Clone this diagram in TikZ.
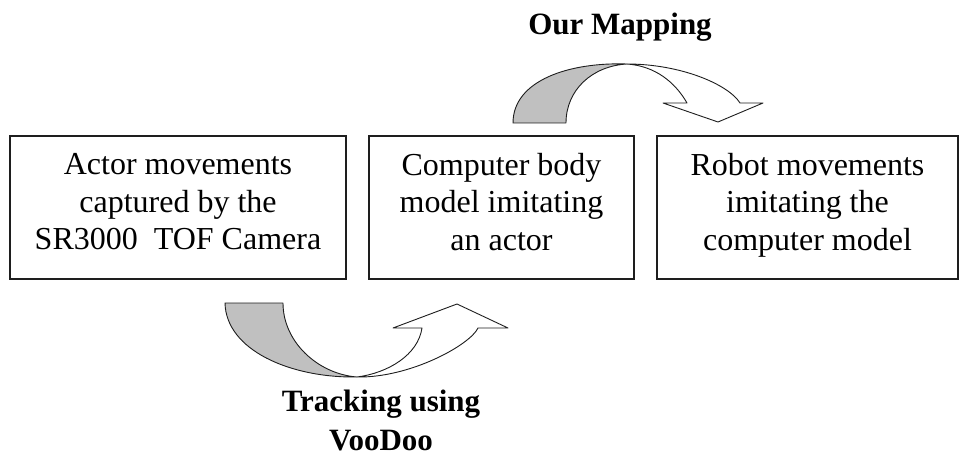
\documentclass[tikz,border=0pt]{standalone}
\usepackage{fontspec}
\setmainfont{Liberation Serif}
\usepackage{tikz}
\usetikzlibrary{positioning,calc}
\usepackage{xcolor}
\definecolor{inkline}{RGB}{30,30,30}
\definecolor{shade}{RGB}{192,192,192}
\tikzset{
  % ---- stages -----------------------------------------------------------
  stage/.style={
    draw=inkline, line width=1.1pt, fill=white, text=black,
    font=\fontsize{32}{37.5}\selectfont, align=center,
    execute at begin node=\strut, execute at end node=\strut,
    inner sep=0pt, minimum height=143pt},
  % ---- ribbon arrows ----------------------------------------------------
  ribbon/.style={draw=inkline, line width=0.9pt, line join=round},
  ribbonback/.style={ribbon, fill=shade},
  ribbonfront/.style={ribbon, fill=white},
  % ---- labels -----------------------------------------------------------
  steplbl/.style={font=\bfseries\fontsize{31}{39}\selectfont, align=center, inner sep=0pt},
}

\begin{document}
\begin{tikzpicture}[x=1pt,y=-1pt]
\useasboundingbox (0,0) rectangle (960,457);

% stages
\node[stage, minimum width=336pt] (actor) at (178,207.5)
  {Actor movements\\ captured by the\\ SR3000\ \ TOF Camera};
\node[stage, minimum width=265pt] (model) at (501.5,207.5)
  {Computer body\\ model imitating\\ an actor};
\node[stage, minimum width=301pt] (robot) at (807.5,207.5)
  {Robot movements\\ imitating the\\ computer model};

% tracking arrow (below, rising to the model)
\coordinate (tw) at (357,377);
\path[ribbonback] (225,303) -- (283,303)
  .. controls (283,342) and (318,374) .. (tw)
  .. controls (290,378) and (226,350) .. (225,303) -- cycle;
\path[ribbonfront] (tw) .. controls (410,378) and (470,345) .. (478,328)
  -- (508,328) -- (457,304) -- (393,328) -- (422,328)
  .. controls (418,355) and (388,373) .. (tw) -- cycle;

% mapping arrow (above, falling to the robot)
\coordinate (mw) at (627,64);
\path[ribbonback] (513,123) -- (566,123)
  .. controls (566,90) and (592,66) .. (mw)
  .. controls (570,62) and (513,80) .. (513,123) -- cycle;
\path[ribbonfront] (mw) .. controls (680,64) and (728,84) .. (740,103)
  -- (763,103) -- (718,122) -- (663,103) -- (687,103)
  .. controls (675,82) and (655,66) .. (mw) -- cycle;

% labels
\node[steplbl, anchor=base] (maplbl) at (620,35) {Our Mapping};
\node[steplbl, anchor=base] (tracklbl) at (381,450) {Tracking using\\ VooDoo};

\end{tikzpicture}
\end{document}
